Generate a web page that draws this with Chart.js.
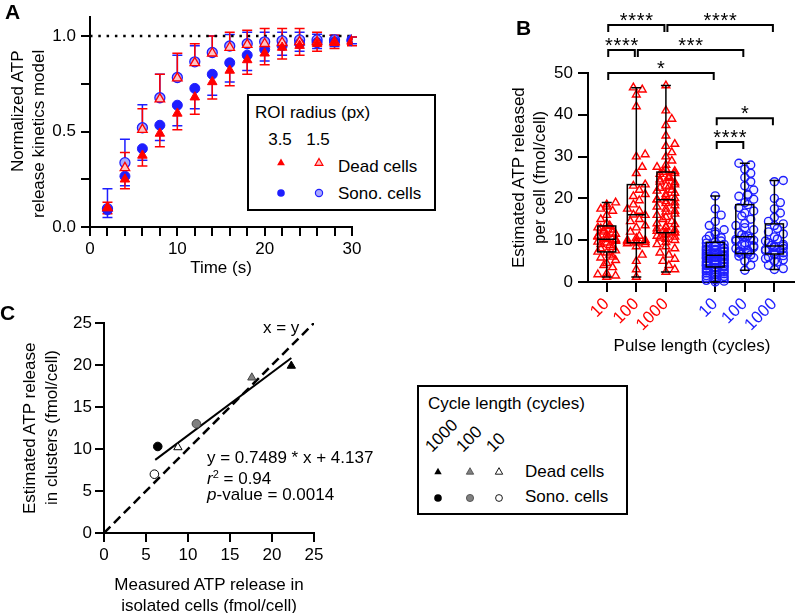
<!DOCTYPE html>
<html>
<head>
<meta charset="utf-8">
<script src="https://cdn.jsdelivr.net/npm/chart.js@4.4.1/dist/chart.umd.min.js"></script>
<style>
  body { margin: 0; background: #fff; }
  #page { position: relative; width: 800px; height: 613px; overflow: hidden;
          font-family: 'Liberation Sans', Arial, sans-serif; color: #000; }
  .wrap { position: absolute; }
  .t { position: absolute; font-size: 17px; line-height: 1; white-space: nowrap; }
  .lbl { position: absolute; font-size: 21px; font-weight: bold; line-height: 1; }
  .vt { position: absolute; writing-mode: vertical-rl; transform: rotate(180deg);
        font-size: 17px; line-height: 21px; white-space: nowrap; }
  .legend { position: absolute; border: 2px solid #000; box-sizing: border-box; background: #fff; }
  .rot { position: absolute; font-size: 17px; line-height: 1; white-space: nowrap;
         transform-origin: 0 100%; transform: rotate(-45deg); }
  #marks { position: absolute; left: 0; top: 0; pointer-events: none; }
</style>
</head>
<body>
<div id="page">
  <div class="wrap" style="left:0;top:0;width:440px;height:290px"><canvas id="chartA"></canvas></div>
  <div class="wrap" style="left:440px;top:0;width:360px;height:340px"><canvas id="chartB"></canvas></div>
  <div class="wrap" style="left:0;top:300px;width:400px;height:300px"><canvas id="chartC"></canvas></div>

  <!-- panel letters -->
  <div class="lbl" style="left:5px;top:1px">A</div>
  <div class="lbl" style="left:516px;top:17px">B</div>
  <div class="lbl" style="left:0;top:302px">C</div>

  <!-- axis titles -->
  <div class="vt" style="left:7px;top:50px;height:180px;text-align:end">Normalized ATP<br>release kinetics model</div>
  <div class="t" style="left:221px;top:259px;transform:translateX(-50%)">Time (s)</div>

  <div class="vt" style="left:508px;top:73px;height:209px;text-align:center">Estimated ATP released<br>per cell (fmol/cell)</div>
  <div class="t" style="left:692px;top:337px;transform:translateX(-50%)">Pulse length (cycles)</div>

  <div class="vt" style="left:19px;top:323px;height:210px;text-align:center;line-height:22px">Estimated ATP release<br>in clusters (fmol/cell)</div>
  <div class="t" style="left:209px;top:576px;transform:translateX(-50%)">Measured ATP release in</div>
  <div class="t" style="left:209px;top:597px;transform:translateX(-50%)">isolated cells (fmol/cell)</div>

  <!-- panel A legend -->
  <div class="legend" style="left:247px;top:94px;width:189px;height:117px"></div>
  <div class="t" style="left:255px;top:104px">ROI radius (px)</div>
  <div class="t" style="left:280px;top:131px;transform:translateX(-50%)">3.5</div>
  <div class="t" style="left:318px;top:131px;transform:translateX(-50%)">1.5</div>
  <div class="t" style="left:338px;top:158px">Dead cells</div>
  <div class="t" style="left:338px;top:185px">Sono. cells</div>

  <!-- panel C annotations -->
  <div class="t" style="left:263px;top:319px">x = y</div>
  <div class="t" style="left:207px;top:449px">y = 0.7489 * x + 4.137</div>
  <div class="t" style="left:207px;top:469px"><i>r</i><sup style="font-size:11px;vertical-align:6px">2</sup> = 0.94</div>
  <div class="t" style="left:207px;top:486px"><i>p</i>-value = 0.0014</div>

  <!-- panel C legend -->
  <div class="legend" style="left:417px;top:385px;width:211px;height:130px"></div>
  <div class="t" style="left:428px;top:395px">Cycle length (cycles)</div>
  <div class="rot" style="left:434px;top:438px">1000</div>
  <div class="rot" style="left:465px;top:438px">100</div>
  <div class="rot" style="left:495px;top:438px">10</div>
  <div class="t" style="left:525px;top:463px">Dead cells</div>
  <div class="t" style="left:525px;top:488px">Sono. cells</div>

  <svg id="marks" width="800" height="613">
    <polygon points="281,158.5 284.9,165.3 277.1,165.3" fill="#ff0000"/>
    <polygon points="319,158.5 322.9,165.3 315.1,165.3" fill="#ffc4c4" stroke="#ff0000" stroke-width="1.2"/>
    <circle cx="281" cy="193" r="3.8" fill="#1e1eff"/>
    <circle cx="319" cy="193" r="3.6" fill="#a9a9ff" stroke="#1e1eff" stroke-width="1.2"/>

    <polygon points="438,467.7 441.7,474.2 434.3,474.2" fill="#000"/>
    <polygon points="470,467.7 473.7,474.2 466.3,474.2" fill="#808080" stroke="#444" stroke-width="0.8"/>
    <polygon points="499,467.7 502.7,474.2 495.3,474.2" fill="#fff" stroke="#000" stroke-width="0.9"/>
    <circle cx="438" cy="498" r="3.8" fill="#000"/>
    <circle cx="470" cy="498" r="3.6" fill="#808080" stroke="#444" stroke-width="0.8"/>
    <circle cx="499" cy="498" r="3.4" fill="#fff" stroke="#000" stroke-width="0.9"/>
  </svg>
</div>

<script>
// ---------- panel A: release kinetics ----------
const timeS = [2, 4, 6, 8, 10, 12, 14, 16, 18, 20, 22, 24, 26, 28, 30];
const dead35 = [0.10, 0.25, 0.375, 0.49, 0.595, 0.68, 0.76, 0.82, 0.875, 0.91, 0.94, 0.95, 0.96, 0.965, 0.97];
const dead35Err = [0.03, 0.05, 0.055, 0.07, 0.085, 0.09, 0.09, 0.08, 0.075, 0.06, 0.06, 0.05, 0.04, 0.03, 0.02];
const dead15 = [0.10, 0.31, 0.51, 0.67, 0.78, 0.86, 0.91, 0.94, 0.955, 0.96, 0.965, 0.97, 0.97, 0.97, 0.975];
const dead15Err = [0.03, 0.08, 0.11, 0.13, 0.13, 0.10, 0.09, 0.08, 0.075, 0.08, 0.075, 0.07, 0.05, 0.035, 0.02];
const sono35 = [0.09, 0.266, 0.41, 0.533, 0.638, 0.726, 0.80, 0.86, 0.90, 0.93, 0.95, 0.96, 0.965, 0.97, 0.975];
const sono35Err = [0.04, 0.05, 0.06, 0.08, 0.108, 0.106, 0.11, 0.10, 0.08, 0.06, 0.05, 0.04, 0.03, 0.025, 0.015];
const sono15 = [0.096, 0.337, 0.52, 0.677, 0.783, 0.865, 0.914, 0.948, 0.96, 0.97, 0.975, 0.98, 0.98, 0.98, 0.98];
const sono15Err = [0.104, 0.123, 0.12, 0.123, 0.117, 0.085, 0.086, 0.06, 0.06, 0.05, 0.045, 0.04, 0.03, 0.025, 0.015];

// ---------- panel B: ATP per cell ----------
const pulseLabels = ['10', '100', '1000', '10', '100', '1000'];
const groupPos = [1, 2, 3, 4.667, 5.667, 6.667];
const dead10 = [1.2, 1.5, 1.8, 2.0, 3.5, 4.0, 4.5, 5.2, 5.8, 6.0, 6.5, 7.0, 7.2, 7.5, 8.0, 8.3, 8.8, 9.0, 9.4, 9.6, 9.8, 10.0,
  10.2, 10.2, 10.5, 10.8, 11.0, 11.3, 11.5, 11.8, 12.0, 12.3, 12.5, 12.8, 13.0, 13.3, 13.5, 14.0, 15.0, 16.0, 17.0, 17.5, 18.0, 18.5, 19.0];
const dead100 = [1.2, 3.0, 5.0, 6.5, 8.5, 9.0, 9.2, 9.4, 9.5, 9.7, 9.8, 10.0, 10.0, 10.5, 11.0, 12.0, 13.0, 13.5, 14.5, 15.0,
  16.0, 16.1, 17.0, 17.5, 18.5, 19.5, 20.5, 21.0, 22.0, 23.0, 23.3, 26.0, 27.5, 30.0, 30.5, 42.0, 44.8, 46.0, 46.5];
const dead1000 = [2.4, 3.0, 4.0, 5.0, 5.5, 6.5, 7.0, 8.0, 8.5, 9.0, 9.5, 10.0, 10.3, 10.6, 10.8, 11.0, 11.3, 11.5, 11.8, 11.9,
  12.0, 12.2, 12.5, 12.8, 13.0, 13.3, 13.8, 14.0, 14.5, 15.0, 15.5, 16.0, 16.3, 16.8, 17.0, 17.5, 18.0, 18.3, 18.8, 19.0,
  19.3, 19.7, 19.7, 20.0, 20.5, 21.0, 21.3, 21.8, 22.0, 22.5, 22.8, 23.0, 23.3, 23.8, 24.0, 24.5, 24.8, 25.0, 25.3, 25.8,
  26.0, 26.3, 26.5, 27.0, 27.5, 28.0, 29.0, 30.0, 31.0, 32.5, 33.0, 35.0, 37.5, 39.0, 41.0, 47.0];
const sono10 = [0.0, 0.2, 0.4, 0.5, 0.8, 1.0, 1.2, 1.3, 1.5, 1.7, 1.8, 2.0, 2.2, 2.4, 2.5, 2.7, 2.9, 3.0, 3.2, 3.4, 3.5, 3.6,
  3.8, 3.9, 4.0, 4.2, 4.4, 4.5, 4.6, 4.8, 4.9, 5.0, 5.2, 5.4, 5.5, 5.6, 5.8, 5.9, 6.0, 6.1, 6.2, 6.4, 6.4, 6.5, 6.6, 6.8,
  6.9, 7.0, 7.2, 7.4, 7.5, 7.6, 7.8, 7.9, 8.0, 8.2, 8.4, 8.5, 8.8, 9.0, 9.3, 9.5, 9.8, 10.2, 10.6, 11.0, 11.5, 12.0,
  12.5, 13.5, 14.5, 16.0, 17.5, 20.6];
const sono100 = [2.8, 4.0, 5.0, 5.8, 6.2, 6.5, 6.6, 6.8, 7.0, 7.2, 7.3, 7.6, 8.0, 8.3, 8.6, 8.8, 9.0, 9.4, 9.8, 10.0, 10.2,
  10.5, 10.8, 11.0, 11.3, 11.8, 12.5, 13.0, 13.5, 14.0, 15.0, 15.8, 16.5, 17.0, 17.8, 18.5, 19.0, 19.8, 20.5, 20.8,
  21.0, 22.0, 23.0, 24.0, 25.0, 26.0, 27.0, 28.0, 28.4];
const sono1000 = [3.0, 3.2, 4.0, 4.8, 5.0, 5.3, 5.6, 6.0, 6.3, 6.5, 6.7, 7.0, 7.2, 7.5, 7.8, 8.0, 8.3, 8.6, 8.6, 8.8, 9.0,
  9.4, 9.8, 10.3, 10.8, 11.5, 12.0, 12.8, 13.5, 13.9, 14.5, 15.5, 16.5, 17.5, 19.0, 20.0, 24.0, 24.3];
const boxMin = [1.2, 1.2, 2.4, 0.0, 2.8, 3.0];
const boxQ1 = [7.2, 9.4, 11.8, 3.6, 6.8, 6.7];
const boxMed = [10.2, 16.1, 19.7, 6.4, 10.8, 8.6];
const boxQ3 = [13.4, 23.3, 26.3, 9.5, 18.5, 13.9];
const boxMax = [19.0, 46.5, 47.0, 20.6, 28.4, 24.3];
// significance brackets: group indices, height (fmol/cell), stars
const sigFrom = [0, 2, 0, 1, 0, 3, 3];
const sigTo = [2, 5, 1, 4, 3, 5, 4];
const sigLevel = [61.5, 61.5, 55.5, 55.5, 50.0, 39.2, 33.5];
const sigStars = ['****', '****', '****', '***', '*', '*', '****'];

// ---------- panel C: clusters vs isolated ----------
const deadIsolated = [22.3, 17.6, 8.8];
const deadClusters = [19.9, 18.5, 10.2];
const sonoIsolated = [6.4, 11.0, 6.0];
const sonoClusters = [10.3, 13.0, 7.0];
const cycleFill = ['#000000', '#808080', '#ffffff'];
const cycleBorder = ['#000000', '#444444', '#000000'];
const fitSlope = 0.7489, fitIntercept = 4.137;
const fitRange = [6.1, 22.3];

const RED = '#ff0000', BLUE = '#1e1eff';
Chart.defaults.font.family = "'Liberation Sans', Arial, sans-serif";
Chart.defaults.font.size = 17;
Chart.defaults.color = '#000';

function axis(extra) {
  return Object.assign({
    type: 'linear',
    grid: { drawOnChartArea: false, color: '#000', lineWidth: 2, tickLength: 9 },
    border: { color: '#000', width: 2 }
  }, extra);
}
const noPlugins = { legend: { display: false }, tooltip: { enabled: false } };

// error bars, one direction per series
const errorBars = {
  id: 'errorBars',
  beforeDatasetsDraw(chart) {
    const { ctx, scales: { x, y } } = chart;
    chart.data.datasets.slice().reverse().forEach(ds => {
      if (!ds.err) return;
      ctx.save();
      ctx.strokeStyle = ds.barColor;
      ctx.lineWidth = 1.5;
      ds.data.forEach((p, i) => {
        const px = x.getPixelForValue(p.x);
        const y0 = y.getPixelForValue(p.y);
        const y1 = y.getPixelForValue(p.y + ds.errDir * ds.err[i]);
        ctx.beginPath();
        ctx.moveTo(px, y0); ctx.lineTo(px, y1);
        ctx.moveTo(px - 5, y1); ctx.lineTo(px + 5, y1);
        ctx.stroke();
      });
      ctx.restore();
    });
  }
};

function series(ys) { return timeS.map((t, i) => ({ x: t, y: ys[i] })); }

new Chart(document.getElementById('chartA'), {
  type: 'scatter',
  data: {
    datasets: [
      { data: series(dead35), err: dead35Err, errDir: -1, barColor: RED, order: 1,
        pointStyle: 'triangle', pointRadius: 5.5, pointBackgroundColor: RED, pointBorderColor: RED, pointBorderWidth: 1 },
      { data: series(dead15), err: dead15Err, errDir: 1, barColor: RED, order: 2,
        pointStyle: 'triangle', pointRadius: 5.5, pointBackgroundColor: '#ffc4c4', pointBorderColor: RED, pointBorderWidth: 1.3 },
      { data: series(sono35), err: sono35Err, errDir: -1, barColor: BLUE, order: 3,
        pointStyle: 'circle', pointRadius: 5, pointBackgroundColor: BLUE, pointBorderColor: BLUE, pointBorderWidth: 1 },
      { data: series(sono15), err: sono15Err, errDir: 1, barColor: BLUE, order: 4,
        pointStyle: 'circle', pointRadius: 5, pointBackgroundColor: '#a9a9ff', pointBorderColor: BLUE, pointBorderWidth: 1.3 },
      { data: [{ x: 0, y: 1 }, { x: 30, y: 1 }], showLine: true, order: 5, borderColor: '#000',
        borderWidth: 2.5, borderDash: [2.5, 5.8], pointRadius: 0 }
    ]
  },
  options: {
    responsive: true, maintainAspectRatio: false, animation: false,
    layout: { padding: { left: 0, top: 17, right: 88, bottom: 0 } },
    plugins: noPlugins,
    scales: {
      x: axis({ min: 0, max: 30,
        ticks: { stepSize: 2, autoSkip: false, maxRotation: 0, padding: 3,
                 callback: v => (v % 10 === 0 ? v : '') },
        afterFit: s => { s.height = 63; } }),
      y: axis({ min: 0, max: 1.1,
        ticks: { stepSize: 0.25, includeBounds: false, padding: 5,
                 callback: v => (Math.abs(v * 2 - Math.round(v * 2)) < 1e-6 ? v.toFixed(1) : '') },
        afterFit: s => { s.width = 90; } })
    }
  },
  plugins: [errorBars]
});

// simple beeswarm so close values spread sideways
const SLOT_PX = 30, UNIT_PX = 4.18;
const OFFSETS = [0, 0.1, -0.1, 0.2, -0.2, 0.3, -0.3];
function swarm(values, center) {
  const placed = [];
  return values.slice().sort((a, b) => a - b).map(v => {
    const py = v * UNIT_PX;
    let best = 0, bestHits = Infinity;
    for (const off of OFFSETS) {
      const px = off * SLOT_PX;
      const hits = placed.filter(p => Math.hypot(p.px - px, p.py - py) < 7).length;
      if (hits < bestHits) { best = off; bestHits = hits; if (hits === 0) break; }
    }
    placed.push({ px: best * SLOT_PX, py });
    return { x: center + best, y: v };
  });
}
const deadPts = [dead10, dead100, dead1000].flatMap((g, i) => swarm(g, groupPos[i]));
const sonoPts = [sono10, sono100, sono1000].flatMap((g, i) => swarm(g, groupPos[i + 3]));

const boxesAndBrackets = {
  id: 'boxesAndBrackets',
  afterDatasetsDraw(chart) {
    const { ctx, scales: { x, y } } = chart;
    ctx.save();
    ctx.strokeStyle = '#000';
    ctx.lineWidth = 1.5;
    groupPos.forEach((g, i) => {
      const cx = x.getPixelForValue(g);
      const q1 = y.getPixelForValue(boxQ1[i]), q3 = y.getPixelForValue(boxQ3[i]);
      const med = y.getPixelForValue(boxMed[i]);
      const lo = y.getPixelForValue(boxMin[i]), hi = y.getPixelForValue(boxMax[i]);
      ctx.strokeRect(cx - 9, q3, 18, q1 - q3);
      ctx.beginPath();
      ctx.moveTo(cx - 9, med); ctx.lineTo(cx + 9, med);
      ctx.moveTo(cx, q3); ctx.lineTo(cx, hi);
      ctx.moveTo(cx, q1); ctx.lineTo(cx, lo);
      ctx.moveTo(cx - 5, hi); ctx.lineTo(cx + 5, hi);
      ctx.moveTo(cx - 5, lo); ctx.lineTo(cx + 5, lo);
      ctx.stroke();
    });
    ctx.lineWidth = 2;
    ctx.fillStyle = '#000';
    ctx.font = "20px 'Liberation Sans', Arial, sans-serif";
    ctx.textAlign = 'center';
    ctx.textBaseline = 'alphabetic';
    sigFrom.forEach((a, k) => {
      const x0 = x.getPixelForValue(groupPos[a]) + 1.5;
      const x1 = x.getPixelForValue(groupPos[sigTo[k]]) - 1.5;
      const yy = y.getPixelForValue(sigLevel[k]);
      ctx.beginPath();
      ctx.moveTo(x0, yy + 7); ctx.lineTo(x0, yy); ctx.lineTo(x1, yy); ctx.lineTo(x1, yy + 7);
      ctx.stroke();
      const n = sigStars[k].length, mid = (x0 + x1) / 2;
      for (let j = 0; j < n; j++) ctx.fillText('*', mid + (j - (n - 1) / 2) * 8.5, yy + 2);
    });
    ctx.restore();
  }
};

new Chart(document.getElementById('chartB'), {
  type: 'scatter',
  data: {
    datasets: [
      { data: deadPts, clip: false, pointStyle: 'triangle', pointRadius: 4.5,
        pointBackgroundColor: 'rgba(255,0,0,0.06)', pointBorderColor: RED, pointBorderWidth: 1.4 },
      { data: sonoPts, clip: false, pointStyle: 'circle', pointRadius: 4,
        pointBackgroundColor: 'rgba(30,30,255,0.06)', pointBorderColor: BLUE, pointBorderWidth: 1.4 }
    ]
  },
  options: {
    responsive: true, maintainAspectRatio: false, animation: false,
    layout: { padding: { left: 0, top: 73, right: 3, bottom: 0 } },
    plugins: noPlugins,
    scales: {
      x: axis({ min: 0.367, max: 7.333,
        afterBuildTicks: s => { s.ticks = groupPos.map(v => ({ value: v })); },
        ticks: { autoSkip: false, minRotation: 45, maxRotation: 45, padding: 2,
                 color: c => (c.index < 3 ? RED : BLUE),
                 callback: (v, i) => pulseLabels[i] },
        grid: { drawOnChartArea: false, color: '#000', lineWidth: 2, tickLength: 10 },
        afterFit: s => { s.height = 58; } }),
      y: axis({ min: 0, max: 50,
        ticks: { stepSize: 10, padding: 5 },
        grid: { drawOnChartArea: false, color: '#000', lineWidth: 2, tickLength: 10 },
        afterFit: s => { s.width = 148; } })
    }
  },
  plugins: [boxesAndBrackets]
});

const fitLine = fitRange.map(v => ({ x: v, y: fitSlope * v + fitIntercept }));
new Chart(document.getElementById('chartC'), {
  type: 'scatter',
  data: {
    datasets: [
      { data: deadIsolated.map((v, i) => ({ x: v, y: deadClusters[i] })), order: 1,
        pointStyle: 'triangle', pointRadius: 4.8, pointBackgroundColor: cycleFill,
        pointBorderColor: cycleBorder, pointBorderWidth: 1 },
      { data: sonoIsolated.map((v, i) => ({ x: v, y: sonoClusters[i] })), order: 2,
        pointStyle: 'circle', pointRadius: 4.3, pointBackgroundColor: cycleFill,
        pointBorderColor: cycleBorder, pointBorderWidth: 1 },
      { data: fitLine, showLine: true, order: 3, borderColor: '#000', borderWidth: 2, pointRadius: 0 },
      { data: [{ x: 0, y: 0 }, { x: 25, y: 25 }], showLine: true, order: 4, borderColor: '#000',
        borderWidth: 2.5, borderDash: [9, 5], pointRadius: 0 }
    ]
  },
  options: {
    responsive: true, maintainAspectRatio: false, animation: false,
    layout: { padding: { left: 0, top: 23, right: 86, bottom: 0 } },
    plugins: noPlugins,
    scales: {
      x: axis({ min: 0, max: 25, ticks: { stepSize: 5, padding: 3 },
        afterFit: s => { s.height = 67; } }),
      y: axis({ min: 0, max: 25, ticks: { stepSize: 5, padding: 3 },
        afterFit: s => { s.width = 104; } })
    }
  }
});
</script>
</body>
</html>
